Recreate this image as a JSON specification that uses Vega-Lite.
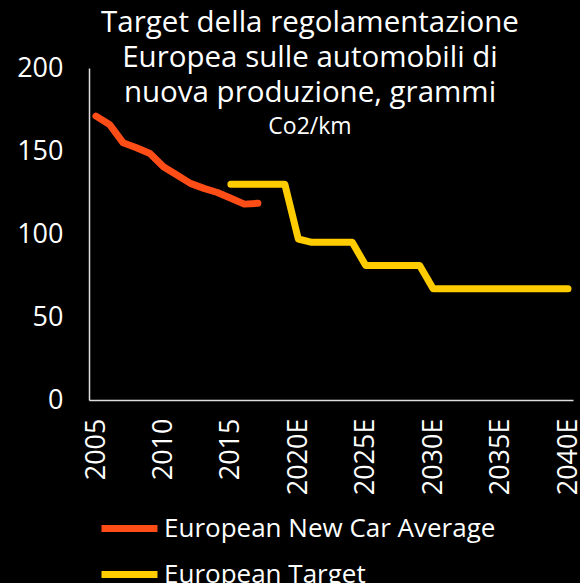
{
  "$schema": "https://vega.github.io/schema/vega-lite/v6.json",
  "autosize": "none",
  "width": 484,
  "height": 332,
  "padding": {"left": 89, "top": 68, "right": 7, "bottom": 183},
  "background": "#000000",
  "config": {
    "view": {"stroke": null},
    "font": "Open Sans",
    "axis": {"labelFont": "Open Sans", "labelColor": "#FFFFFF", "grid": false, "ticks": false, "domainColor": "#DDDDDD", "domainWidth": 1.5, "title": null},
    "legend": {"labelFont": "Open Sans", "labelColor": "#FFFFFF"}
  },
  "title": {
    "text": ["Target della regolamentazione", "Europea sulle automobili di", "nuova produzione, grammi"],
    "subtitle": "Co2/km",
    "orient": "top",
    "anchor": "middle",
    "dx": -21,
    "dy": 10,
    "offset": -76,
    "font": "Open Sans",
    "fontSize": 29.5,
    "fontWeight": "normal",
    "lineHeight": 35,
    "color": "#FFFFFF",
    "subtitleFont": "Open Sans",
    "subtitleFontSize": 23,
    "subtitleColor": "#FFFFFF",
    "subtitlePadding": 8
  },
  "data": {
    "values": [
      {"year": 2005, "value": 171, "series": "European New Car Average"},
      {"year": 2006, "value": 166, "series": "European New Car Average"},
      {"year": 2007, "value": 155, "series": "European New Car Average"},
      {"year": 2008, "value": 152, "series": "European New Car Average"},
      {"year": 2009, "value": 148.5, "series": "European New Car Average"},
      {"year": 2010, "value": 140.5, "series": "European New Car Average"},
      {"year": 2011, "value": 135.5, "series": "European New Car Average"},
      {"year": 2012, "value": 130.5, "series": "European New Car Average"},
      {"year": 2013, "value": 127.5, "series": "European New Car Average"},
      {"year": 2014, "value": 125, "series": "European New Car Average"},
      {"year": 2015, "value": 121.5, "series": "European New Car Average"},
      {"year": 2016, "value": 118, "series": "European New Car Average"},
      {"year": 2017, "value": 118.5, "series": "European New Car Average"},
      {"year": 2015, "value": 130, "series": "European Target"},
      {"year": 2016, "value": 130, "series": "European Target"},
      {"year": 2017, "value": 130, "series": "European Target"},
      {"year": 2018, "value": 130, "series": "European Target"},
      {"year": 2019, "value": 130, "series": "European Target"},
      {"year": 2020, "value": 97, "series": "European Target"},
      {"year": 2021, "value": 95, "series": "European Target"},
      {"year": 2022, "value": 95, "series": "European Target"},
      {"year": 2023, "value": 95, "series": "European Target"},
      {"year": 2024, "value": 95, "series": "European Target"},
      {"year": 2025, "value": 81, "series": "European Target"},
      {"year": 2026, "value": 81, "series": "European Target"},
      {"year": 2027, "value": 81, "series": "European Target"},
      {"year": 2028, "value": 81, "series": "European Target"},
      {"year": 2029, "value": 81, "series": "European Target"},
      {"year": 2030, "value": 67, "series": "European Target"},
      {"year": 2031, "value": 67, "series": "European Target"},
      {"year": 2032, "value": 67, "series": "European Target"},
      {"year": 2033, "value": 67, "series": "European Target"},
      {"year": 2034, "value": 67, "series": "European Target"},
      {"year": 2035, "value": 67, "series": "European Target"},
      {"year": 2036, "value": 67, "series": "European Target"},
      {"year": 2037, "value": 67, "series": "European Target"},
      {"year": 2038, "value": 67, "series": "European Target"},
      {"year": 2039, "value": 67, "series": "European Target"},
      {"year": 2040, "value": 67, "series": "European Target"}
    ]
  },
  "mark": {"type": "line", "strokeWidth": 7, "strokeCap": "round", "strokeJoin": "round"},
  "encoding": {
    "x": {
      "field": "year",
      "type": "quantitative",
      "scale": {"domain": [2004.48, 2040.37], "nice": false, "zero": false},
      "axis": {
        "values": [2005, 2010, 2015, 2020, 2025, 2030, 2035, 2040],
        "labelExpr": "datum.value >= 2020 ? datum.value + 'E' : '' + datum.value",
        "labelAngle": -90,
        "labelFontSize": 27,
        "labelPadding": 18,
        "labelFlush": false,
        "labelOverlap": false
      }
    },
    "y": {
      "field": "value",
      "type": "quantitative",
      "scale": {"domain": [0, 200], "nice": false},
      "axis": {
        "values": [0, 50, 100, 150, 200],
        "labelFontSize": 27,
        "labelPadding": 26,
        "labelFlush": false
      }
    },
    "color": {
      "field": "series",
      "type": "nominal",
      "scale": {"domain": ["European New Car Average", "European Target"], "range": ["#FF4D17", "#FFCC00"]},
      "legend": {
        "title": null,
        "orient": "none",
        "legendX": 9,
        "legendY": 429,
        "direction": "vertical",
        "symbolType": "stroke",
        "symbolSize": 3136,
        "symbolStrokeWidth": 7,
        "labelFontSize": 26,
        "labelLimit": 450,
        "labelOffset": 3,
        "rowPadding": -16
      }
    }
  }
}
